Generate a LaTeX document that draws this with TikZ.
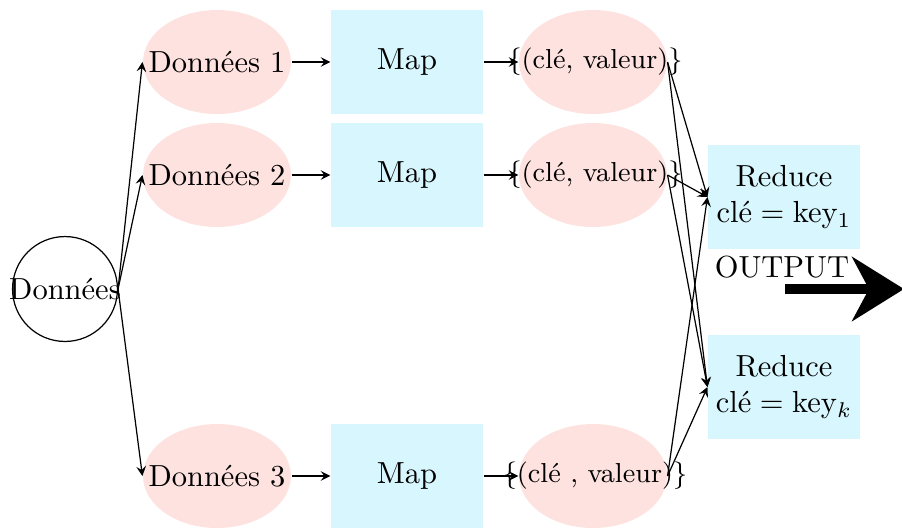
\documentclass[tikz,border=0pt]{standalone}
\usepackage{fontspec}
\usetikzlibrary{shapes.geometric,arrows.meta}
\definecolor{pinkc}{RGB}{254,226,224}
\definecolor{cyanc}{RGB}{216,246,253}
\begin{document}
\begin{tikzpicture}[x=0.3279pt,y=-0.3279pt,
  ell/.style={ellipse, fill=pinkc, minimum width=48.5pt, minimum height=34.1pt, inner sep=0pt},
  box/.style={rectangle, fill=cyanc, minimum width=49.8pt, minimum height=34.3pt, inner sep=0pt, align=center},
  kvtext/.style={font=\small, inner sep=0pt},
  con/.style={-stealth, line width=0.4pt},
  bigarrow/.style={line width=3.3pt, -{Stealth[length=17pt,width=21pt]}}]
\useasboundingbox (0,0) rectangle (902,527);

\node[circle, draw, minimum size=34.4pt, inner sep=0pt, label=center:Données] (don) at (65,289) {};

\node[ell, label=center:Données 1] (d1) at (217,62) {};
\node[ell, label=center:Données 2] (d2) at (217,175) {};
\node[ell, label=center:Données 3] (d3) at (217,476) {};

\node[box] (m1) at (407,62) {Map};
\node[box] (m2) at (407,175) {Map};
\node[box] (m3) at (407,476) {Map};

\node[ell] (kv1) at (593,62) {};
\node[ell] (kv2) at (593,175) {};
\node[ell] (kv3) at (593,476) {};
\node[kvtext] (t1) at (595,62) {\{(clé, valeur)\}};
\node[kvtext] (t2) at (595,175) {\{(clé, valeur)\}};
\node[kvtext] (t3) at (595,476) {\{(clé , valeur)\}};

\node[box] (r1) at (784,197) {Reduce\\clé${}={}$key$_1$};
\node[box] (r2) at (784,387) {Reduce\\clé${}={}$key$_k$};

\node[inner sep=0pt] (out) at (782,267) {OUTPUT};
\coordinate (o1) at (785,289);
\coordinate (o2) at (904,289);

\draw[con] (don.east) -- (d1.west);
\draw[con] (don.east) -- (d2.west);
\draw[con] (don.east) -- (d3.west);

\draw[con] (d1.east) -- (m1.west);
\draw[con] (d2.east) -- (m2.west);
\draw[con] (d3.east) -- (m3.west);

\draw[con] (m1.east) -- (kv1.west);
\draw[con] (m2.east) -- (kv2.west);
\draw[con] (m3.east) -- (kv3.west);

\foreach \k in {kv1,kv2,kv3}{
  \draw[con] (\k.east) -- (r1.west);
  \draw[con] (\k.east) -- (r2.west);
}

\draw[bigarrow] (o1) -- (o2);
\end{tikzpicture}
\end{document}
